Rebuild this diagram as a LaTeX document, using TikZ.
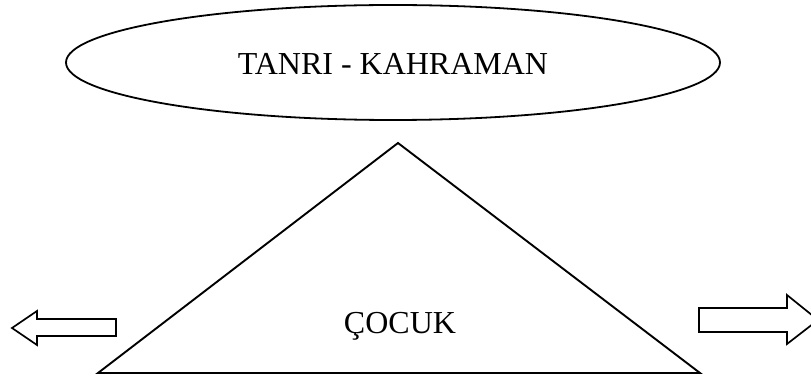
\documentclass[tikz,border=0pt]{standalone}
\usepackage{fontspec}
\setmainfont{Liberation Serif}
\usepackage{tikz}
\usetikzlibrary{shapes.geometric}

\begin{document}
\begin{tikzpicture}[x=1pt,y=-1pt,line join=miter,
        label/.style={font=\fontsize{32}{38}\selectfont, inner sep=0pt}]
        \useasboundingbox (0,0) rectangle (811,382);
        % ust: tanri - kahraman
        \node[draw, line width=1.8pt, ellipse, minimum width=654pt, minimum height=115pt, inner sep=0pt] (kahraman) at (393,62.5) {};
        \node[label, anchor=base] (kahramantext) at (393,75) {TANRI - KAHRAMAN};
        % ucgen
        \coordinate (tepe) at (398,143);
        \coordinate (solalt) at (98,373);
        \coordinate (sagalt) at (700,373);
        \draw[line width=1.9pt] (tepe) -- (solalt) -- (sagalt) -- cycle;
        \node[label, anchor=base] (cocuk) at (400,333) {ÇOCUK};
        % oklar
        \draw[line width=1.7pt] (116,319) -- (37,319) -- (37,311) -- (12,328) -- (37,345) -- (37,336) -- (116,336) -- cycle;
        \draw[line width=1.7pt] (699,308) -- (787,308) -- (787,295) -- (818,320) -- (787,344) -- (787,332) -- (699,332) -- cycle;
    \end{tikzpicture}
\end{document}
